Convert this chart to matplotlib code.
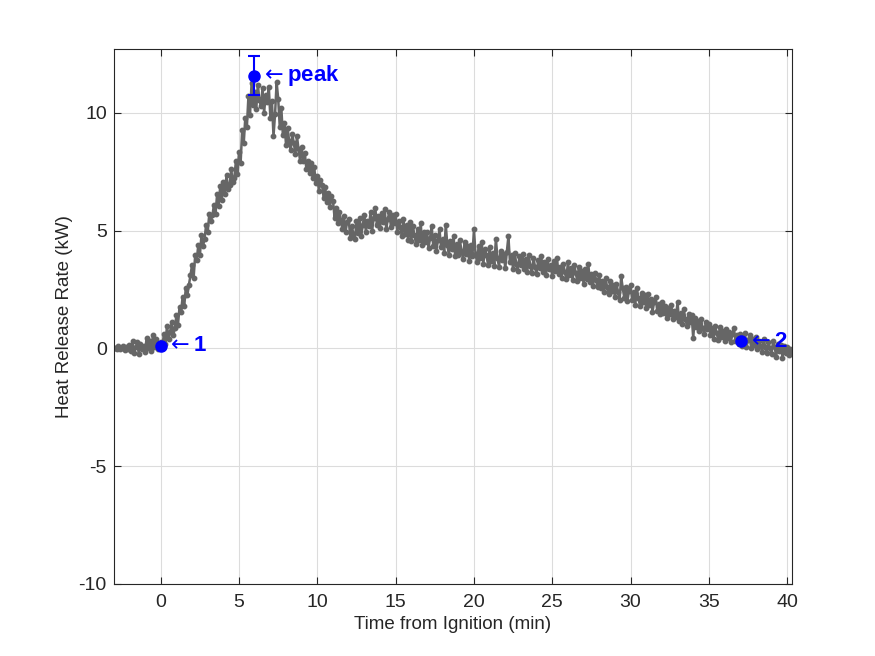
import numpy as np
import matplotlib
matplotlib.use("Agg")
import matplotlib.pyplot as plt

plt.rcParams["font.family"] = ["Liberation Sans", "DejaVu Sans"]
plt.rcParams["axes.unicode_minus"] = False

# Heat release rate (kW), sampled every 0.1 min starting at -3.0 min
hrr = [
    0.00, 0.03, -0.02, 0.08, -0.05, 0.02, 0.10, -0.08, 0.05, -0.02,
    0.15, -0.10, 0.30, -0.20, 0.05, 0.25, -0.25, 0.20, -0.05, 0.10,
    -0.15, 0.45, 0.00, 0.30, -0.10, 0.55, 0.05, 0.40, -0.05, 0.20,
    0.25, 0.05, 0.60, 0.20, 0.95, 0.40, 0.70, 1.10, 0.55, 0.85,
    1.40, 1.00, 1.75, 1.55, 2.20, 1.80, 2.55, 2.25, 2.70, 3.10,
    3.55, 3.00, 3.95, 3.75, 4.40, 3.95, 4.80, 4.35, 4.65, 5.25,
    4.95, 5.70, 5.40, 5.65, 6.10, 5.70, 6.55, 6.05, 6.90, 6.30,
    7.05, 6.55, 7.35, 6.75, 6.95, 7.60, 7.05, 7.25, 7.95, 7.40,
    8.35, 7.85, 9.25, 8.70, 9.80, 9.40, 10.70, 9.90, 11.25, 10.35,
    10.90, 10.15, 11.20, 10.55, 10.30, 11.05, 10.00, 10.75, 10.45, 11.10,
    9.80, 10.50, 9.00, 9.95, 11.30, 10.60, 9.40, 10.20, 9.05, 9.55,
    8.65, 9.35, 8.80, 8.40, 9.10, 8.70, 8.25, 9.00, 8.45, 7.95,
    8.55, 7.95, 8.30, 7.60, 7.95, 7.45, 7.85, 7.25, 7.70, 7.00,
    7.30, 6.70, 7.15, 6.95, 6.40, 6.85, 6.20, 6.60, 6.00, 6.45,
    6.25, 5.55, 5.95, 5.30, 5.80, 5.45, 5.05, 5.60, 4.95, 5.35,
    5.50, 4.70, 5.20, 4.85, 4.65, 5.40, 4.90, 5.55, 4.75, 5.25,
    5.65, 4.95, 5.40, 5.20, 5.80, 5.00, 5.55, 5.95, 5.25, 5.60,
    5.10, 5.75, 5.35, 5.90, 5.05, 5.50, 5.80, 5.15, 5.65, 5.30,
    5.70, 4.95, 5.40, 5.15, 4.75, 5.50, 4.85, 5.25, 4.60, 5.35,
    4.55, 5.20, 4.80, 4.45, 5.05, 4.60, 5.30, 4.40, 4.95, 4.50,
    4.95, 4.25, 4.70, 5.20, 4.35, 4.80, 4.15, 4.60, 5.05, 4.30,
    4.65, 4.05, 5.25, 4.40, 3.95, 4.55, 4.20, 4.75, 3.90, 4.45,
    3.95, 4.60, 4.15, 3.80, 4.50, 4.00, 4.35, 3.70, 4.40, 3.90,
    5.05, 4.00, 3.65, 4.35, 3.85, 4.50, 3.60, 4.20, 3.95, 3.55,
    4.30, 3.70, 4.05, 3.50, 4.65, 3.85, 3.45, 4.15, 3.75, 4.00,
    3.40, 4.10, 4.75, 3.65, 3.95, 3.35, 4.05, 3.60, 3.30, 3.90,
    3.55, 4.00, 3.35, 3.80, 3.25, 3.95, 3.50, 3.20, 3.85, 3.45,
    3.15, 3.75, 3.40, 3.90, 3.25, 3.65, 3.10, 3.80, 3.35, 3.55,
    3.05, 3.70, 3.30, 3.85, 3.15, 3.45, 3.00, 3.60, 3.25, 2.95,
    3.65, 3.10, 3.40, 2.90, 3.55, 3.20, 2.85, 3.45, 3.00, 3.30,
    2.75, 3.35, 2.95, 3.60, 2.80, 3.15, 2.65, 3.20, 2.90, 2.60,
    3.10, 2.55, 2.85, 2.40, 3.00, 2.60, 2.30, 2.85, 2.45, 2.70,
    2.20, 2.75, 2.40, 2.05, 3.05, 2.55, 2.15, 2.60, 2.00, 2.45,
    2.70, 2.05, 2.40, 1.85, 2.55, 2.15, 1.80, 2.35, 1.95, 2.25,
    1.70, 2.30, 1.85, 2.10, 1.55, 1.95, 2.20, 1.60, 1.90, 1.45,
    1.95, 1.50, 1.80, 1.30, 1.70, 1.45, 1.85, 1.25, 1.60, 1.35,
    1.95, 1.15, 1.50, 1.05, 1.65, 1.25, 0.95, 1.45, 1.10, 1.40,
    0.45, 1.30, 0.90, 1.15, 0.75, 1.25, 0.85, 0.60, 1.10, 0.80,
    1.05, 0.55, 0.85, 0.40, 0.95, 0.65, 0.35, 0.90, 0.50, 0.75,
    0.30, 0.80, 0.45, 0.70, 0.25, 0.60, 0.85, 0.30, 0.55, 0.20,
    0.60, 0.10, 0.45, 0.65, 0.05, 0.35, 0.55, 0.00, 0.40, 0.15,
    0.50, -0.05, 0.30, 0.10, -0.15, 0.40, 0.05, -0.20, 0.25, 0.00,
    -0.25, 0.30, 0.05, -0.35, 0.20, -0.10, 0.15, -0.40, 0.10, -0.20,
    0.05, -0.30, -0.05, -0.15,
]
t_start = -3.0
dt = 0.1
t = t_start + dt * np.arange(len(hrr))

# Marked points
mark_t = [0.0, 37.05]
mark_y = [0.1, 0.3]
mark_lbl = ["1", "2"]
peak_t = 5.96
peak_y = 11.57
peak_err = 0.83

gray = "#666666"
blue = "#0000ff"
axcol = "#262626"

fig = plt.figure(figsize=(8.75, 6.56), dpi=100)
ax = fig.add_axes([0.13, 0.11, 0.775, 0.815])

ax.plot(t, hrr, "-o", color=gray, linewidth=1.8, markersize=3.2)

ax.plot(mark_t, mark_y, "o", color=blue, markersize=8)
for x, y, s in zip(mark_t, mark_y, mark_lbl):
    ax.annotate(r"$\leftarrow$" + s, (x, y), xytext=(4, 0), textcoords="offset points",
                ha="left", va="center", color=blue, fontsize=16, fontweight="bold")

ax.errorbar([peak_t], [peak_y], yerr=[peak_err], fmt="o", color=blue,
            markersize=8, capsize=4.3, elinewidth=1.5, capthick=1.5)
ax.annotate(r"$\leftarrow$" + "peak", (peak_t, peak_y), xytext=(4, 0), textcoords="offset points",
            ha="left", va="center", color=blue, fontsize=16, fontweight="bold")

ax.set_xlim(-3.0, 40.3)
ax.set_ylim(-10, 12.7)
ax.set_xticks(np.arange(0, 41, 5))
ax.set_yticks([-10, -5, 0, 5, 10])

ax.grid(True, color="#dcdcdc", linewidth=0.8)
ax.set_axisbelow(True)
ax.tick_params(direction="in", top=True, right=True, length=5, width=0.8,
               colors=axcol, labelsize=14)
ax.tick_params(axis="x", pad=7)
ax.tick_params(axis="y", pad=5)
for sp in ax.spines.values():
    sp.set_color(axcol)
    sp.set_linewidth(0.8)

ax.set_xlabel("Time from Ignition (min)", fontsize=13.5, color=axcol)
ax.set_ylabel("Heat Release Rate (kW)", fontsize=13.5, color=axcol)

fig.savefig("out.png", dpi=100)
